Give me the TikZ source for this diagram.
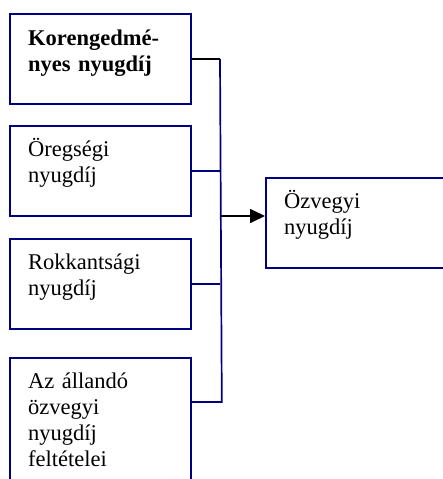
\documentclass[tikz,border=0pt]{standalone}
\usepackage{fontspec}
\setmainfont{Liberation Serif}
\usetikzlibrary{arrows.meta,calc}
\definecolor{boxblue}{RGB}{0,0,128}

\begin{document}
\begin{tikzpicture}[x=1pt,y=1pt,
    box/.style={draw=boxblue,line width=1.8pt,anchor=north west,minimum width=181pt,minimum height=90pt,inner sep=0pt},
    boxtext/.style={anchor=base west,text width=165pt,align=left,inner sep=0pt,font=\fontsize{22.5}{26}\selectfont},
    conn/.style={draw=boxblue,line width=1.7pt},
    blackline/.style={draw=black,line width=1.7pt}]
                \useasboundingbox (0,0) rectangle (442,-479);
                \node[box] (b1) at (9,-13) {};
                \node[box] (b2) at (9,-125) {};
                \node[box] (b3) at (9,-238) {};
                \node[box,minimum height=130pt] (b4) at (9,-357) {};
                \node[box,minimum width=200pt] (tgt) at (265,-177) {};
                \node[boxtext,font=\fontsize{22.5}{26}\selectfont\bfseries] (t1) at ($(b1.north west)+(19,-32)$) {Korengedmé-\\nyes nyugdíj};
                \node[boxtext] (t2) at ($(b2.north west)+(19,-31)$) {Öregségi\\nyugdíj};
                \node[boxtext] (t3) at ($(b3.north west)+(19,-31)$) {Rokkantsági\\nyugdíj};
                \node[boxtext] (t4) at ($(b4.north west)+(19,-31)$) {Az állandó\\özvegyi\\nyugdíj\\feltételei};
                \node[boxtext] (t5) at ($(tgt.north west)+(19,-31)$) {Özvegyi\\nyugdíj};
                \coordinate (top) at (220,0 |- b1.east);
                \coordinate (low) at ($(b4.north east)+(30,-45)$);
                \coordinate (mid) at (220,-216);
                \draw[blackline] (b1.east) -- (top);
                \draw[conn] (top) -- (low) -- (low -| b4.east);
                \draw[conn] (b2.east) -- (b2.east -| top);
                \draw[conn] (b3.east) -- (b3.east -| top);
                \draw[blackline,-{Triangle[length=15pt,width=14pt]}] (mid) -- (mid -| tgt.west);
            \end{tikzpicture}
\end{document}
